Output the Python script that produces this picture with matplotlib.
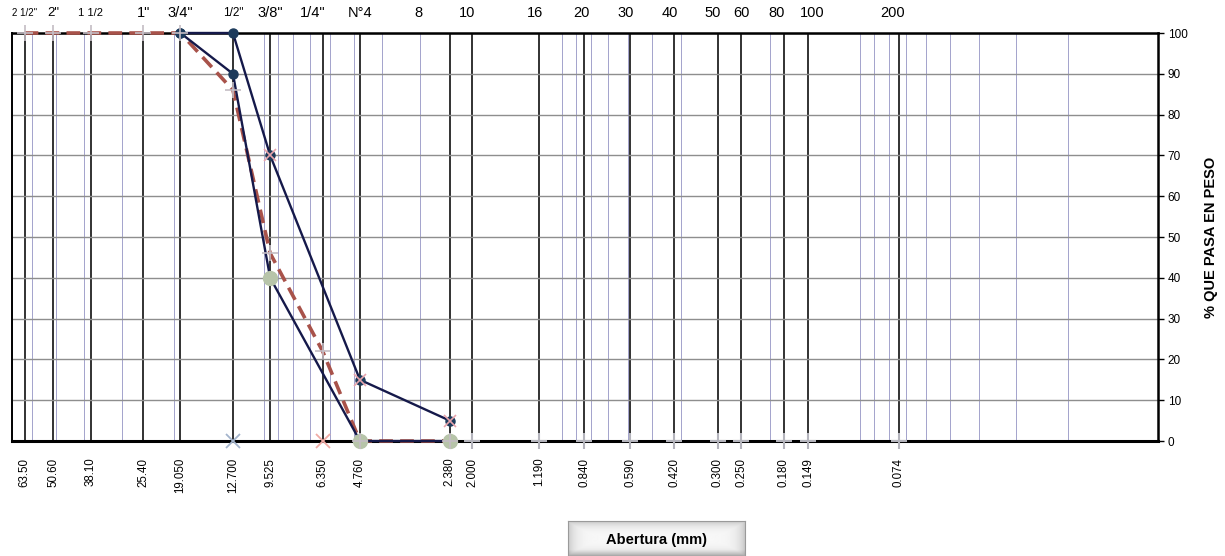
import numpy as np
import matplotlib.pyplot as plt
import matplotlib.transforms as mtransforms
from matplotlib.ticker import LogLocator, NullFormatter, FixedLocator

plt.rcParams['font.family'] = ['Liberation Sans', 'DejaVu Sans']

# tamices: abertura (mm), rotulo inferior, nombre superior
openings = [63.5, 50.8, 38.1, 25.4, 19.05, 12.7, 9.525, 6.35, 4.76, 2.38,
            2.0, 1.19, 0.84, 0.59, 0.42, 0.30, 0.25, 0.18, 0.149, 0.074]
opening_labels = ['63.50', '50.60', '38.10', '25.40', '19.050', '12.700',
                  '9.525', '6.350', '4.760', '2.380', '2.000', '1.190',
                  '0.840', '0.590', '0.420', '0.300', '0.250', '0.180',
                  '0.149', '0.074']
sieve_names = ['2 1/2"', '2"', '1 1/2', '1"', '3/4"', '1/2"', '3/8"', '1/4"',
               'N°4', '8', '10', '16', '20', '30', '40', '50', '60', '80',
               '100', '200']

# curva de la muestra (linea discontinua)
sample_mm = [63.5, 50.8, 38.1, 25.4, 19.05, 12.7, 9.525, 6.35, 4.76, 2.38]
sample_pct = [100, 100, 100, 100, 100, 86, 46, 22, 0, 0]

# limites del huso
upper_mm = [19.05, 12.7, 9.525, 4.76, 2.38]
upper_pct = [100, 100, 70, 15, 5]
lower_mm = [19.05, 12.7, 9.525, 4.76, 2.38]
lower_pct = [100, 90, 40, 0, 0]

# puntos sueltos sobre el eje
pan_mm = [2.0, 1.19, 0.84, 0.59, 0.42, 0.30, 0.25, 0.18, 0.149, 0.074]
pan_pct = [0, 0, 0, 0, 0, 0, 0, 0, 0, 0]
cross_mm = [12.7, 6.35]
cross_pct = [0, 0]

NAVY = '#15194a'
DOT = '#1d3b5c'

fig = plt.figure(figsize=(12.25, 5.56), dpi=100)
ax = fig.add_axes([12 / 1225, 1 - 441 / 556, 1146 / 1225, 408 / 556])

ax.set_xscale('log')
ax.set_xlim(70, 0.01)
ax.set_ylim(0, 100)

# rejilla logaritmica fina + lineas de tamices
ax.xaxis.set_minor_locator(LogLocator(base=10, subs=np.arange(1, 10), numticks=20))
ax.xaxis.set_minor_formatter(NullFormatter())
ax.grid(which='minor', axis='x', color='#9494c4', lw=0.6, zorder=1)
ax.yaxis.set_major_locator(FixedLocator(np.arange(0, 101, 10)))
ax.grid(which='major', axis='y', color='#8e8e8e', lw=1.0, zorder=1)
for d in openings:
    ax.axvline(d, color='#222222', lw=1.3, zorder=1.5)

ax.set_xticks(openings)
ax.set_xticklabels(opening_labels, rotation=90, fontsize=8.3)
ax.tick_params(axis='x', which='both', length=0, pad=12)

ax.yaxis.tick_right()
ax.yaxis.set_label_position('right')
ax.tick_params(axis='y', length=4, width=1, labelsize=8.5, pad=3)
ax.set_ylabel('% QUE PASA EN PESO', fontsize=10.5, fontweight='bold', labelpad=12)

for side, w in [('top', 1.8), ('bottom', 2.2), ('right', 1.8), ('left', 1.4)]:
    ax.spines[side].set_linewidth(w)
    ax.spines[side].set_color('black')

# curvas
ax.plot(sample_mm, sample_pct, color='#a8524a', lw=2.6, dashes=(3.8, 2),
        zorder=3, clip_on=False)
ax.plot(upper_mm, upper_pct, color=NAVY, lw=1.7, marker='o', ms=6.5,
        mfc=DOT, mec=DOT, zorder=4, clip_on=False)
ax.plot(lower_mm, lower_pct, color=NAVY, lw=1.7, marker='o', ms=6.5,
        mfc=DOT, mec=DOT, zorder=4, clip_on=False)
ax.plot(lower_mm[2:], lower_pct[2:], ls='none', marker='o', ms=10,
        mfc='#b7c4a9', mec='#b7c4a9', zorder=5, clip_on=False)
ax.plot(upper_mm[2:], upper_pct[2:], ls='none', marker='x', ms=8, mew=1.2,
        color='#e8a4ac', zorder=6, clip_on=False)
ax.plot(sample_mm, sample_pct, ls='none', marker='+', ms=11, mew=1.2,
        color='#c4bcc4', zorder=6, clip_on=False)
ax.plot(pan_mm, pan_pct, ls='none', marker='+', ms=11, mew=1.5,
        color='#b4b4bc', zorder=6, clip_on=False)
ax.plot(cross_mm[:1], cross_pct[:1], ls='none', marker='x', ms=10, mew=1.3,
        color='#a4b4cc', zorder=6, clip_on=False)
ax.plot(cross_mm[1:], cross_pct[1:], ls='none', marker='x', ms=10, mew=1.3,
        color='#f0aaa4', zorder=6, clip_on=False)

# nombres de tamices arriba
trans = mtransforms.blended_transform_factory(ax.transData, ax.transAxes)
small = {'2 1/2"': 7, '1 1/2': 8, '1/2"': 8.5, '2"': 9.5}
shift = {'1/4"': -10, '8': -31, '10': -5, '16': -4, '20': -3, '30': -5,
         '40': -4, '50': -5, '80': -7, '100': 4, '200': -6}
for d, name in zip(openings, sieve_names):
    ax.annotate(name, xy=(d, 1.05), xycoords=trans,
                xytext=(shift.get(name, 0), 0), textcoords='offset pixels',
                ha='center', va='center', fontsize=small.get(name, 10.5))

# caja "Abertura (mm)"
bx = fig.add_axes([568 / 1225, 0, 177 / 1225, 35 / 556])
gy = np.linspace(-1, 1, 40)[:, None]
gx = np.linspace(-1, 1, 200)[None, :]
shade = 0.97 - 0.18 * np.maximum(np.abs(gy) ** 3, np.abs(gx) ** 12)
shade[-8:, :] -= np.linspace(0, 0.12, 8)[:, None]
bx.imshow(shade, cmap='gray', vmin=0, vmax=1, aspect='auto',
          extent=(0, 1, 0, 1), origin='upper')
bx.set_xticks([]); bx.set_yticks([])
for s in bx.spines.values():
    s.set_color('#9a9a9a')
bx.text(0.5, 0.45, 'Abertura (mm)', ha='center', va='center',
        fontsize=10.5, fontweight='bold', transform=bx.transAxes)

fig.savefig('out.png', dpi=100)
